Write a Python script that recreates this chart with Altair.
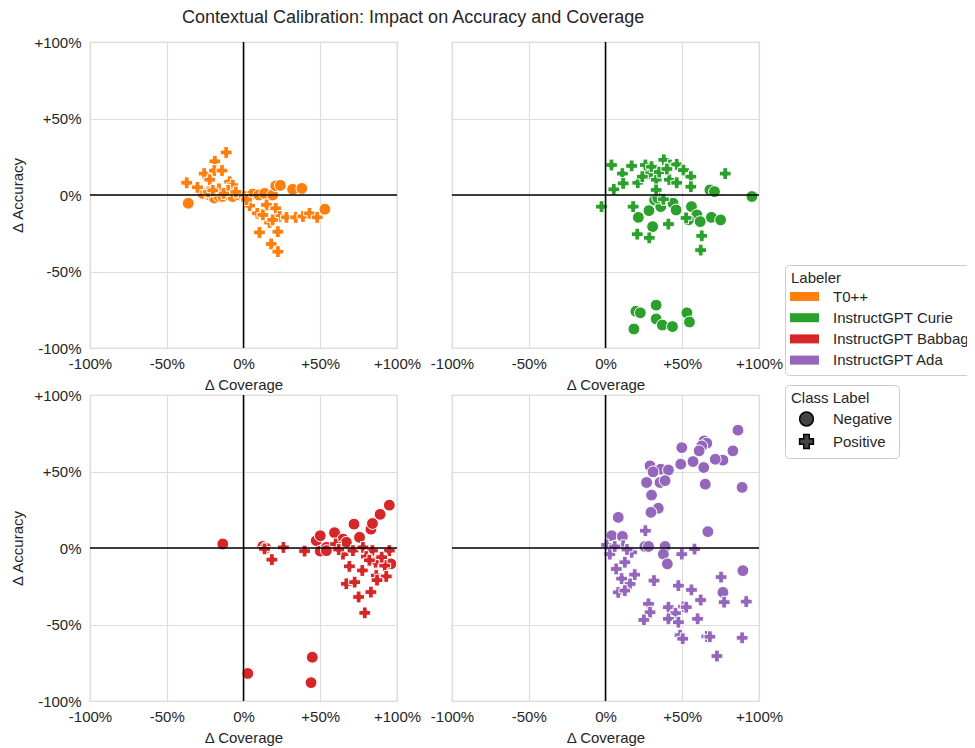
import altair as alt
import pandas as pd

labelers = ["T0++", "InstructGPT Curie", "InstructGPT Babbage", "InstructGPT Ada"]
colors = ["#ff7f0e", "#2ca02c", "#d62728", "#9467bd"]
classes = ["Negative", "Positive"]
tick_values = [-100, -50, 0, 50, 100]

# T0++
t0_neg_x = [-36, -26.5, -22, -19, -16, -13.5, -10, -7, -3, 0.6, 6, 10, 13.7, 19, 21, 24, 32, 38, 53]
t0_neg_y = [-5.4, 1, 0, -2, -1, -1, 0, -1, 0, -1, 0.6, 0, 1, 0, 6, 6.3, 3.7, 4.3, -9.3]
t0_pos_x = [-11.3, -18.7, -25.6, -19, -14, -37, -30, -22, -9, -7, -23, -10, -16, -5, 4, 9, 15, 21, 17, 23.5,
            28, 34, 38.7, 43, 48, 10.4, 18, 22.4, 22.4, 12.6, 19, -13, -20, 2]
t0_pos_y = [27.8, 22, 14, 16, 16, 8, 5, 10, 8.7, 6.5, 2, 3, 4, 2, -7, -12, -6.5, -8.7, -18, -14,
            -14.6, -14.6, -14, -12, -14.6, -24.5, -32, -37, -24, -13, -16.3, 1, 3, -3]

# InstructGPT Curie
cu_neg_x = [27.5, 32, 36, 44, 46, 56, 59.5, 61.7, 54, 69, 75, 68, 71, 95.4, 28.3, 21.4, 30.7, 34,
            19.8, 33, 33, 37, 43.6, 53, 54.7, 18.5, 22.7]
cu_neg_y = [13.7, -3.3, -7.6, -5.4, -9.8, -7.6, -13, -17.4, -16.3, -14.6, -16.3, 3.3, 2.2, -1, -10.2, -14.6, -20.7, -2,
            -76, -72, -81, -85, -86, -77, -83, -87.6, -77]
cu_pos_x = [3.9, 17, 11, 26, 30, 38, 42, 46.4, 50.8, 55.6, 78, 11.5, 21, 33, 41.6, 46.4, 55.6, 5.4, 33, 37.7,
            -2.6, 18, 52.5, 41, 20.7, 28.5, 62.7, 62, 35, 40, 24]
cu_pos_y = [19.6, 19, 14, 19.6, 18.5, 23, 19.6, 20, 16.3, 12, 14, 7.6, 8, 10, 10, 8, 5.4, 3.7, 3.3, -2.8,
            -7.6, -7.6, -15, -19, -25.6, -28, -26.7, -36, 15, 17, 12]

# InstructGPT Babbage
ba_neg_x = [-13.5, 2.8, 44.8, 44, 12.6, 14.5, 47.4, 50, 50, 54, 59.3, 64.8, 67, 72, 75.6, 83, 84, 89, 95, 96, 54]
ba_neg_y = [2.6, -82, -71.4, -88, 1, 0, 4.8, 8, -2, 0.4, 10, 5.8, 3.7, 15.6, 7, 12.3, 16, 22, 28, -10.4, -1.7]
ba_pos_x = [13.7, 18.5, 26, 39.8, 60, 64.8, 71.3, 77.8, 84, 95, 69, 77.4, 86, 92, 67, 72.4, 86.5, 93, 75, 83, 79, 80, 87,
            62, 90, 82]
ba_pos_y = [-0.6, -7.6, 0.4, -2, 2.6, -4, -1.7, 0.4, -1.7, -1.7, -12, -14.7, -9.3, -11.5, -23.4, -22.3, -18, -18.6,
            -32, -28.8, -42.4, -5.6, -21, -1, -6, -8]

# InstructGPT Ada
ad_neg_x = [86.3, 64.3, 66, 62.7, 61, 49.7, 83, 76.5, 71.5, 57, 49, 64, 29, 36, 41, 31, 26.8, 35.5, 38.8, 65, 89,
            30, 34.4, 29.6, 8.3, 66.7, 4, 11, 5, 25.7, 38.8, 37.7, 40.3, 89.5, 76.5, 28]
ad_neg_y = [77, 70, 68.5, 66.7, 63.5, 65.6, 63.5, 57.4, 58, 56.5, 54.8, 52.6, 53.7, 51.5, 51, 49.8, 42.8, 42.8, 44,
            41.7, 39.6, 34.6, 26, 23.3, 20, 10.7, 8, 7.6, 0.4, 1, 1, -4, -10.4, -14.8, -29, 1]
ad_pos_x = [26, 49.7, 58, 0.7, 2.8, 11.5, 17, 12.6, 7, 19, 10.5, 16, 31.6, 8.3, 12.6, 47.5, 56, 75.3, 62, 77.3, 91.7,
            28, 41, 50.8, 52.6, 29, 45.6, 25, 41, 47.5, 60, 48.6, 50.3, 66, 68, 89, 72.6, 6, 14]
ad_pos_y = [11.3, -4, -0.7, 2, -4, 1.5, -2.8, -9.3, -13.7, -17.4, -20, -23.5, -21.3, -29, -27.8, -24.6, -27.4, -19,
            -34, -35.4, -35, -36.5, -38.7, -38.3, -38.7, -42, -42.6, -47, -46.3, -48.5, -46.3, -57, -59.3, -57.8, -58,
            -58.7, -70.6, 1, -1]

series = {
    "T0++": (t0_neg_x, t0_neg_y, t0_pos_x, t0_pos_y),
    "InstructGPT Curie": (cu_neg_x, cu_neg_y, cu_pos_x, cu_pos_y),
    "InstructGPT Babbage": (ba_neg_x, ba_neg_y, ba_pos_x, ba_pos_y),
    "InstructGPT Ada": (ad_neg_x, ad_neg_y, ad_pos_x, ad_pos_y),
}

rows = []
for lab, (nx, ny, px, py) in series.items():
    for a, b in zip(nx, ny):
        rows.append({"labeler": lab, "cls": "Negative", "dx": a, "dy": b})
    for a, b in zip(px, py):
        rows.append({"labeler": lab, "cls": "Positive", "dx": a, "dy": b})
df = pd.DataFrame(rows)
zero_df = pd.DataFrame({"z": [0]})

FONT = "Liberation Sans"
TXT = "#262626"
FS = 15
label_expr = "datum.value > 0 ? '+' + datum.value + '%' : datum.value + '%'"

W, H = 307, 306
LX, LY = 695, 223


def panel(name, show_y):
    xaxis = alt.Axis(values=tick_values, labelExpr=label_expr, title="Δ Coverage", ticks=False, domain=False,
                     grid=True, gridColor="#dddddd", gridWidth=1.2, labelPadding=8, titlePadding=6,
                     labelFlush=False)
    if show_y:
        yaxis = alt.Axis(values=tick_values, labelExpr=label_expr, title="Δ Accuracy", ticks=False, domain=False,
                         grid=True, gridColor="#dddddd", gridWidth=1.2, labelPadding=9, titlePadding=8,
                         labelFlush=False)
    else:
        yaxis = alt.Axis(values=tick_values, labels=False, title=None, ticks=False, domain=False,
                         grid=True, gridColor="#dddddd", gridWidth=1.2)
    pts = alt.Chart(df).transform_filter(alt.datum.labeler == name).mark_point(
        filled=True, opacity=1, stroke="white", strokeWidth=1, strokeOpacity=1, size=140, clip=True
    ).encode(
        x=alt.X("dx:Q", scale=alt.Scale(domain=[-100, 100], nice=False, zero=False), axis=xaxis),
        y=alt.Y("dy:Q", scale=alt.Scale(domain=[-100, 100], nice=False, zero=False), axis=yaxis),
        color=alt.Color("labeler:N", scale=alt.Scale(domain=labelers, range=colors),
                        legend=alt.Legend(title="Labeler", orient="none", legendX=LX, legendY=LY,
                                          symbolType="M-1.38,-0.43H1.38V0.43H-1.38Z", symbolSize=441,
                                          symbolStrokeWidth=0, symbolOffset=3, labelOffset=18, rowPadding=2.2,
                                          titlePadding=0)),
        shape=alt.Shape("cls:N", scale=alt.Scale(domain=classes, range=["circle", "cross"]),
                        legend=alt.Legend(title="Class Label", orient="none", legendX=LX, legendY=LY + 120,
                                          symbolSize=190, symbolFillColor="#444444", symbolStrokeColor="black",
                                          symbolStrokeWidth=1.5, symbolOffset=7.5, labelOffset=18.5,
                                          rowPadding=2.5, titlePadding=5)),
    )
    vr = alt.Chart(zero_df).mark_rule(color="black", strokeWidth=1.5).encode(x=alt.datum(0))
    hr = alt.Chart(zero_df).mark_rule(color="black", strokeWidth=1.5).encode(y=alt.datum(0))
    return alt.layer(pts, vr, hr).properties(width=W, height=H)


chart = alt.concat(
    panel("T0++", True), panel("InstructGPT Curie", False),
    panel("InstructGPT Babbage", True), panel("InstructGPT Ada", False),
    columns=2, spacing={"row": 47, "column": 55}, bounds="flush"
).properties(
    title=alt.TitleParams("Contextual Calibration: Impact on Accuracy and Coverage", fontSize=18, font=FONT,
                          fontWeight="normal", color=TXT, anchor="start", frame="group", dx=92, offset=7),
    padding={"left": 2, "top": 1, "right": -18, "bottom": 5}
).configure_view(
    stroke="#cccccc", strokeWidth=1.2
).configure_axis(
    labelFont=FONT, titleFont=FONT, labelFontSize=FS, titleFontSize=FS, labelColor=TXT, titleColor=TXT,
    titleFontWeight="normal"
).configure_legend(
    titleFont=FONT, labelFont=FONT, titleFontSize=FS, labelFontSize=FS, titleFontWeight="normal",
    titleColor=TXT, labelColor=TXT, strokeColor="#cccccc", cornerRadius=4, padding=6, fillColor="white",
    labelLimit=300
)

chart.save("out.html", embed_options={"renderer": "svg", "actions": False})
